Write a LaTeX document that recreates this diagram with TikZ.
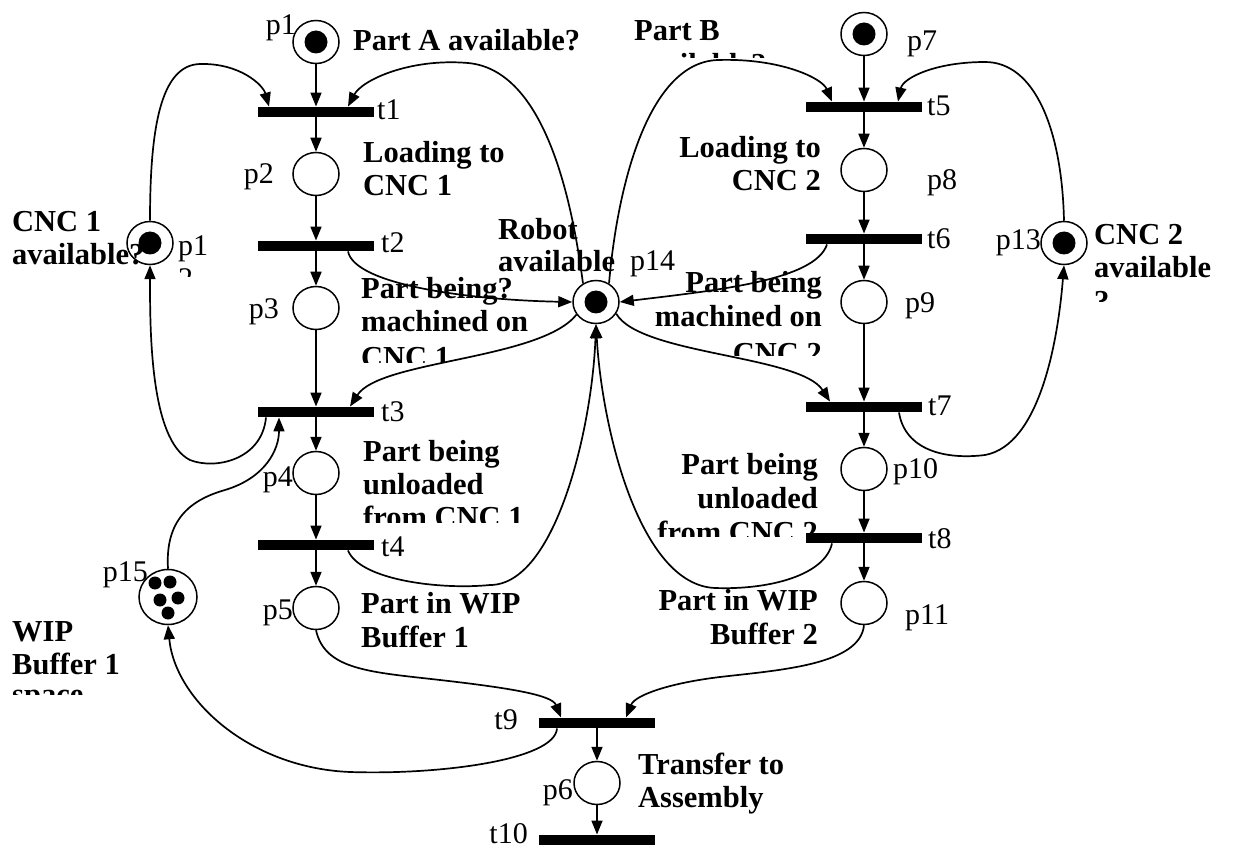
\documentclass[tikz,border=0pt]{standalone}
\usepackage{fontspec}
\setmainfont{Liberation Serif}
\usetikzlibrary{arrows.meta,shapes.geometric}

\begin{document}
\begin{tikzpicture}[x=1pt,y=-1pt,
  pl/.style={ellipse,draw,line width=1.5pt,minimum width=46pt,minimum height=43pt,inner sep=0pt},
  tbar/.style={rectangle,fill=black,minimum width=116pt,minimum height=10.5pt,inner sep=0pt},
  conn/.style={line width=1.7pt,-{Triangle[length=14pt,width=11pt]}},
  lab/.style={font=\fontsize{30}{33}\selectfont,inner sep=0pt,anchor=base west},
  labr/.style={lab,anchor=base east},
  txt/.style={font=\fontsize{30.5}{33}\selectfont\bfseries,inner sep=0pt,anchor=base west},
  txtr/.style={txt,anchor=base east}
]
\useasboundingbox[fill=white] (0,0) rectangle (1243,850);

% ---------- descriptive texts ----------
\node[txt] (dA) at (353,51) {Part A available?};
\node[txt] (dL1a) at (363,163) {Loading to};
\node[txt] (dL1b) at (363,196) {CNC 1};
\node[txt] (dM1a) at (361,299) {Part being?};
\node[txt] (dM1b) at (361,332) {machined on};
\begin{scope}
  \clip (300,340) rectangle (560,363);
  \node[txt] (dM1c) at (361,368) {CNC 1};
\end{scope}
\node[txt] (dU1a) at (363,461) {Part being};
\node[txt] (dU1b) at (363,494) {unloaded};
\begin{scope}
  \clip (300,504) rectangle (560,522);
  \node[txt] (dU1c) at (363,527) {from CNC 1};
\end{scope}
\node[txt] (dW1a) at (361,613) {Part in WIP};
\node[txt] (dW1b) at (361,647) {Buffer 1};
\node[txt] (dT1) at (638,774) {Transfer to};
\node[txt] (dT2) at (638,807) {Assembly};

\node[txt] (dB1) at (634,41) {Part B};
\begin{scope}
  \clip (600,48) rectangle (800,58);
  \node[txt] (dB2) at (634,75) {available?};
\end{scope}
\node[txtr] (dL2a) at (821,158) {Loading to};
\node[txtr] (dL2b) at (821,191) {CNC 2};
\node[txtr] (dM2a) at (822,293) {Part being};
\node[txtr] (dM2b) at (822,327) {machined on};
\begin{scope}
  \clip (600,340) rectangle (840,356);
  \node[txtr] (dM2c) at (822,364) {CNC 2};
\end{scope}
\node[txtr] (dU2a) at (818,474) {Part being};
\node[txtr] (dU2b) at (818,508) {unloaded};
\begin{scope}
  \clip (600,518) rectangle (840,536);
  \node[txtr] (dU2c) at (818,542) {from CNC 2};
\end{scope}
\node[txtr] (dW2a) at (818,610) {Part in WIP};
\node[txtr] (dW2b) at (818,644) {Buffer 2};

\node[txt] (dC1a) at (12,232) {CNC 1};
\node[txt] (dC1b) at (12,265) {available?};
\node[txt] (dC2a) at (1094,245) {CNC 2};
\node[txt] (dC2b) at (1094,278) {available};
\begin{scope}
  \clip (1080,288) rectangle (1243,302);
  \node[txt] (dC2c) at (1094,312) {?};
\end{scope}
\node[txt] (dR1) at (498,240) {Robot};
\node[txt] (dR2) at (498,272) {available};
\node[txt] (dS1) at (12,641) {WIP};
\node[txt] (dS2) at (12,674) {Buffer 1};
\begin{scope}
  \clip (0,684) rectangle (160,694);
  \node[txt] (dS3) at (12,704) {space};
\end{scope}

% ---------- places ----------
\node[pl] (p1) at (316,42) {};
\node[pl] (p2) at (316,174) {};
\node[pl] (p3) at (316,308) {};
\node[pl] (p4) at (316,473) {};
\node[pl] (p5) at (316,608) {};
\node[pl] (p6) at (597,783) {};
\node[pl] (p7) at (864,34) {};
\node[pl] (p8) at (864,170) {};
\node[pl] (p9) at (864,302) {};
\node[pl] (p10) at (864,469) {};
\node[pl] (p11) at (864,603) {};
\node[pl] (p12) at (150,243) {};
\node[pl] (p13) at (1064,243) {};
\node[pl] (p14) at (596,302) {};
\node[pl,minimum width=58pt,minimum height=55pt] (p15) at (168,597) {};

% tokens
\foreach \p in {p1,p7,p12,p13,p14} \fill (\p) circle (11.5pt);
\foreach \q in {(155,583),(170,582),(160,600),(178,598),(168,613)} \fill \q circle (6.5pt);

% ---------- transitions ----------
\node[tbar] (t1) at (316,112) {};
\node[tbar] (t2) at (316,246) {};
\node[tbar] (t3) at (316,412) {};
\node[tbar] (t4) at (316,545) {};
\node[tbar] (t5) at (864,107) {};
\node[tbar] (t6) at (864,239) {};
\node[tbar] (t7) at (864,407) {};
\node[tbar] (t8) at (864,538) {};
\node[tbar] (t9) at (597,723) {};
\node[tbar] (t10) at (597,840) {};

% ---------- place / transition names ----------
\node[labr] (lp1) at (296,35) {p1};
\node[lab] (lt1) at (377,120) {t1};
\node[labr] (lp2) at (274,184) {p2};
\node[lab] (lt2) at (381,253) {t2};
\node[labr] (lp3) at (279,319) {p3};
\node[lab] (lt3) at (381,421) {t3};
\node[labr] (lp4) at (293,486) {p4};
\node[lab] (lt4) at (381,556) {t4};
\node[labr] (lp5) at (293,619) {p5};
\node[labr] (lt9) at (518,729) {t9};
\node[labr] (lp6) at (573,799) {p6};
\node[labr] (lt10) at (528,843) {t10};
\node[labr] (lp15) at (148,581) {p15};
\node[lab] (lp12a) at (178,256) {p1};
\begin{scope}
  \clip (170,266) rectangle (220,277);
  \node[lab] (lp12b) at (178,289) {2};
\end{scope}
\node[labr] (lp13) at (1041,250) {p13};
\node[lab] (lp14) at (630,271) {p14};
\node[lab] (lp7) at (907,51) {p7};
\node[lab] (lt5) at (927,116) {t5};
\node[lab] (lp8) at (927,190) {p8};
\node[lab] (lt6) at (927,249) {t6};
\node[lab] (lp9) at (905,313) {p9};
\node[lab] (lt7) at (928,416) {t7};
\node[lab] (lp10) at (893,478) {p10};
\node[lab] (lt8) at (928,548) {t8};
\node[lab] (lp11) at (905,624) {p11};

% ---------- straight arcs of the two machining lines ----------
\foreach \a/\b in {p1/t1,t1/p2,p2/t2,t2/p3,p3/t3,t3/p4,p4/t4,t4/p5,
                   p7/t5,t5/p8,p8/t6,t6/p9,p9/t7,t7/p10,p10/t8,t8/p11,
                   t9/p6,p6/t10}
  \draw[conn] (\a) -- (\b);

% ---------- resource arcs ----------
% CNC 1 availability
\draw[conn] (p12.north) .. controls (150,130) and (160,65) .. (200,64)
            .. controls (240,63) and (263,85) .. ([xshift=-47pt]t1.north);
\draw[conn] ([xshift=-50pt]t3.south) .. controls (262,460) and (215,470) .. (190,460)
            .. controls (150,440) and (150,330) .. (p12.south);
% robot
\draw[conn] (p14.125) .. controls (572,200) and (545,70) .. (468,63)
            .. controls (410,58) and (362,80) .. ([xshift=32pt]t1.north);
\draw[conn] ([xshift=32pt]t2.south) .. controls (355,285) and (470,300) .. (p14.west);
\draw[conn] (p14.213) .. controls (540,360) and (380,360) .. ([xshift=34pt]t3.north);
\draw[conn] ([xshift=32pt]t4.south) .. controls (360,580) and (440,590) .. (490,585)
            .. controls (555,585) and (592,430) .. (p14.south);
\draw[conn] (p14.55) .. controls (618,180) and (650,62) .. (718,60)
            .. controls (780,58) and (822,78) .. ([xshift=-32pt]t5.north);
\draw[conn] ([xshift=-37pt]t6.south) .. controls (815,280) and (720,290) .. (p14.east);
\draw[conn] (p14.330) .. controls (640,355) and (800,355) .. ([xshift=-34pt]t7.north);
\draw[conn] ([xshift=-32pt]t8.south) .. controls (825,575) and (770,590) .. (715,588)
            .. controls (640,585) and (602,430) .. (p14.south);
% CNC 2 availability
\draw[conn] (p13.north) .. controls (1062,130) and (1035,62) .. (985,62)
            .. controls (935,62) and (903,78) .. ([xshift=34pt]t5.north);
\draw[conn] ([xshift=35pt]t7.south) .. controls (905,450) and (945,460) .. (985,455)
            .. controls (1040,445) and (1058,340) .. (p13.south);
% WIP buffer space and assembly transfer
\draw[conn] (p15.north) .. controls (165,520) and (190,500) .. (225,490)
            .. controls (265,478) and (279,450) .. ([xshift=-37pt]t3.south);
\draw[conn] ([xshift=-40pt]t9.south) .. controls (555,760) and (440,775) .. (350,772)
            .. controls (250,768) and (175,700) .. (p15.south);
\draw[conn] (p5.south) .. controls (325,670) and (370,672) .. (440,680)
            .. controls (510,688) and (552,695) .. ([xshift=-36pt]t9.north);
\draw[conn] (p11.south) .. controls (860,665) and (780,670) .. (720,677)
            .. controls (670,683) and (635,695) .. ([xshift=29pt]t9.north);
\end{tikzpicture}
\end{document}
